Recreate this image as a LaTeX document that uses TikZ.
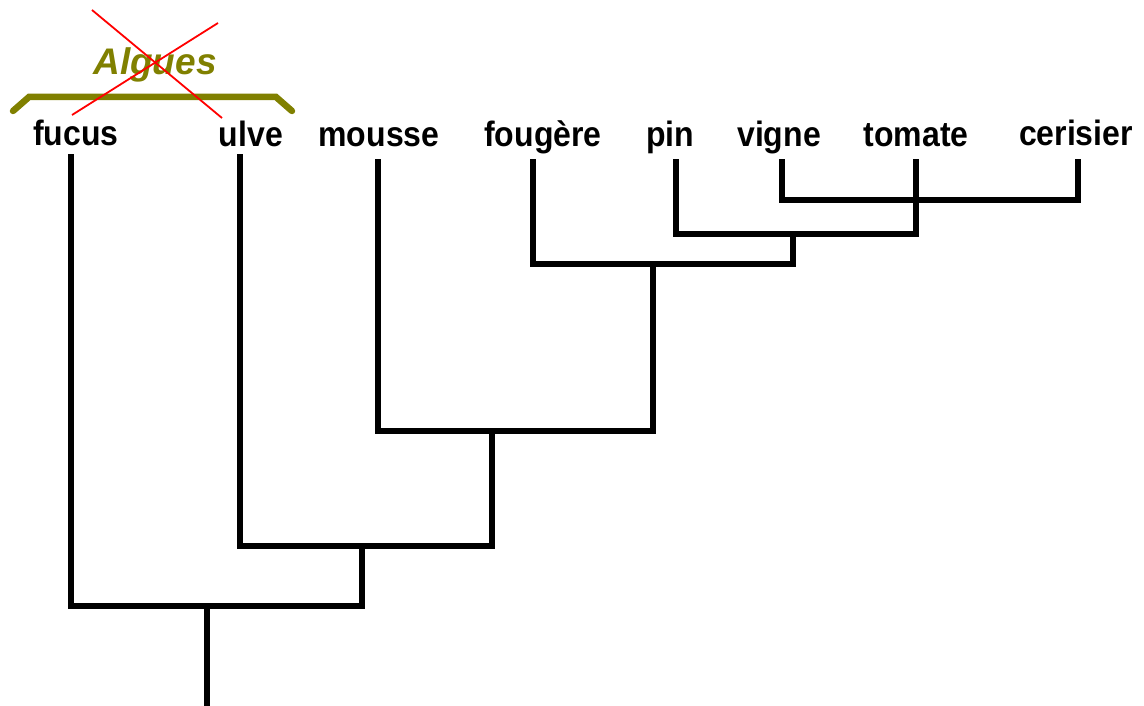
\documentclass[tikz,border=0pt]{standalone}
\usepackage{fontspec}
\setmainfont{Liberation Sans}
\definecolor{olivegreen}{RGB}{128,128,0}
\newcommand{\tallt}[1]{\scalebox{1}[1.1]{#1}}
\begin{document}
\begin{tikzpicture}[x=1pt,y=-1pt,
  branch/.style={line width=6.5pt,line join=miter,line cap=rect},
  taxon/.style={font=\fontsize{32}{36}\selectfont\bfseries,inner sep=0pt,anchor=base},
  grp/.style={font=\fontsize{37}{40}\selectfont\bfseries\itshape,text=olivegreen,inner sep=0pt,anchor=base}]
\useasboundingbox (0,0) rectangle (1144,706);
% taxa labels
\node[taxon] (fucus) at (76,146) {\tallt{fucus}};
\node[taxon] (ulve) at (251,147) {\tallt{ulve}};
\node[taxon] (mousse) at (379,147) {\tallt{mousse}};
\node[taxon] (fougere) at (543,147) {\tallt{fougère}};
\node[taxon] (pin) at (670,147) {\tallt{pin}};
\node[taxon] (vigne) at (779,147) {\tallt{vigne}};
\node[taxon] (tomate) at (916,147) {\tallt{tomate}};
\node[taxon] (cerisier) at (1076,146) {\tallt{cerisier}};
% tip coordinates
\coordinate (tfucus) at (71,157);
\coordinate (tulve) at (240,157);
\coordinate (tmousse) at (378,162);
\coordinate (tfougere) at (533,162);
\coordinate (tpin) at (676,162);
\coordinate (tvigne) at (782,162);
\coordinate (ttomate) at (916,162);
\coordinate (tcerisier) at (1078,162);
\coordinate (root) at (207,706);
% branches
\draw[branch] (tvigne) |- (1078,200) -- (tcerisier);
\draw[branch] (tpin) |- (916,234) -- (ttomate);
\draw[branch] (793,234) -- (793,264);
\draw[branch] (tfougere) |- (793,264);
\draw[branch] (653,264) -- (653,431);
\draw[branch] (tmousse) |- (653,431);
\draw[branch] (492,431) -- (492,546);
\draw[branch] (tulve) |- (492,546);
\draw[branch] (362,546) -- (362,606);
\draw[branch] (tfucus) |- (362,606);
\draw[branch,line cap=butt] (207,606) -- (root);
% group bracket
\node[grp] (algues) at (155,75) {Algues};
\draw[olivegreen,line width=6.5pt,line cap=round,line join=miter] (13,111) -- (29,97) -- (276,97) -- (292,111);
% red cross
\draw[red,line width=1.8pt] (92,10) -- (222,118);
\draw[red,line width=1.8pt] (72,115) -- (218,23);
\end{tikzpicture}
\end{document}
